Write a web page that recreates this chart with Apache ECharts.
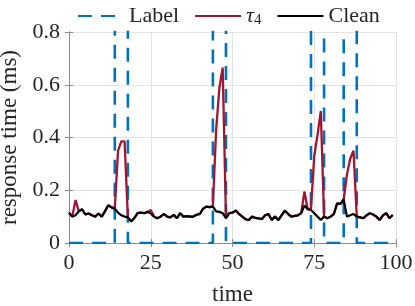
<!DOCTYPE html>
<html><head><meta charset="utf-8">
<script src="https://cdn.jsdelivr.net/npm/echarts@6/dist/echarts.min.js"></script>
<style>html,body{margin:0;padding:0;background:#fff}#c{width:415px;height:306px}</style>
</head><body><div id="c"></div>
<script>
// time stamps
var times = [];
for (var i = 0; i < 100; i++) times.push(i);
// Clean series values
var cleanVals = [0.115,0.100,0.105,0.120,0.128,0.108,0.112,0.105,0.100,0.112,
0.100,0.120,0.143,0.135,0.130,0.115,0.105,0.100,0.097,0.082,
0.095,0.113,0.115,0.113,0.118,0.112,0.100,0.094,0.100,0.110,
0.100,0.097,0.107,0.094,0.113,0.100,0.102,0.100,0.100,0.107,
0.110,0.130,0.138,0.136,0.138,0.120,0.118,0.113,0.094,0.113,
0.115,0.123,0.110,0.100,0.090,0.087,0.100,0.095,0.093,0.091,
0.105,0.110,0.087,0.100,0.087,0.105,0.123,0.110,0.100,0.103,
0.105,0.113,0.142,0.128,0.125,0.113,0.100,0.087,0.100,0.094,
0.100,0.110,0.150,0.148,0.165,0.100,0.105,0.110,0.100,0.097,
0.094,0.105,0.113,0.108,0.100,0.087,0.105,0.113,0.094,0.106];
// tau4 series values
var tau4Vals = [0.115,0.100,0.163,0.120,0.128,0.108,0.112,0.105,0.100,0.112,
0.100,0.120,0.143,0.135,0.130,0.350,0.385,0.385,0.097,0.082,
0.095,0.113,0.115,0.113,0.118,0.125,0.100,0.094,0.100,0.110,
0.100,0.097,0.107,0.094,0.113,0.100,0.102,0.100,0.100,0.107,
0.110,0.130,0.138,0.136,0.140,0.430,0.590,0.665,0.094,0.113,
0.115,0.123,0.110,0.100,0.090,0.087,0.100,0.095,0.093,0.091,
0.105,0.110,0.087,0.100,0.087,0.105,0.123,0.110,0.100,0.103,
0.105,0.113,0.195,0.128,0.130,0.330,0.410,0.500,0.100,0.094,
0.100,0.110,0.150,0.148,0.165,0.260,0.320,0.350,0.100,0.097,
0.094,0.105,0.113,0.108,0.100,0.087,0.105,0.113,0.094,0.106];
// Label step signal: breakpoints (time) and values
var labelTimes = [0,14,14,18,18,44,44,48,48,74,74,78,78,84,84,88,88,100];
var labelVals  = [0,0,1,1,0,0,1,1,0,0,1,1,0,0,1,1,0,0];
var xTicks = [0,25,50,75,100];
var yTicks = [0,0.2,0.4,0.6,0.8];

function zip(a,b){return a.map(function(v,i){return [v,b[i]];});}

var F = 'Liberation Serif';
var axisGray = '#8c8c8c';
var chart = echarts.init(document.getElementById('c'));
chart.setOption({
  animation:false,
  textStyle:{fontFamily:F},
  legend:{
    left:72, top:0, itemWidth:46, itemHeight:14, itemGap:15,
    itemStyle:{opacity:0},
    textStyle:{fontFamily:F,fontSize:22,color:'#262626',
      rich:{t:{fontFamily:F,fontSize:22,fontStyle:'italic',color:'#262626'},
            s:{fontFamily:F,fontSize:15,color:'#262626',verticalAlign:'bottom',padding:[8,0,0,0]}}},
    formatter:function(n){return n==='τ4'?'{t|τ}{s|4}':n;},
    data:['Label','τ4','Clean']
  },
  grid:{left:69,right:19,top:32,bottom:63,outerBoundsMode:'none',containLabel:false},
  xAxis:[{
    type:'value',min:0,max:100,interval:25,
    name:'time',nameLocation:'middle',nameGap:40,
    nameTextStyle:{fontFamily:F,fontSize:23,color:'#262626'},
    axisLine:{show:true,lineStyle:{color:axisGray,width:1}},
    axisTick:{show:true,inside:true,length:4,lineStyle:{color:axisGray}},
    axisLabel:{fontFamily:F,fontSize:22,color:'#262626',margin:9,
      formatter:function(v){return xTicks.indexOf(v)>=0?String(v):'';}},
    splitLine:{show:true,lineStyle:{color:'#e3e3e3',width:1}}
  },{
    type:'value',min:0,max:100,interval:25,position:'top',
    axisLine:{show:true,lineStyle:{color:axisGray,width:1}},
    axisTick:{show:true,inside:true,length:4,lineStyle:{color:axisGray}},
    axisLabel:{show:false},splitLine:{show:false}
  }],
  yAxis:[{
    type:'value',min:0,max:0.8,interval:0.2,
    name:'response time (ms)',nameLocation:'middle',nameGap:38,
    nameTextStyle:{fontFamily:F,fontSize:23,color:'#262626'},
    axisLine:{show:true,lineStyle:{color:axisGray,width:1}},
    axisTick:{show:true,inside:true,length:4,lineStyle:{color:axisGray}},
    axisLabel:{fontFamily:F,fontSize:22,color:'#262626',margin:9,
      formatter:function(v){var r=Math.round(v*10)/10;return r===0?'0':r.toFixed(1);}},
    splitLine:{show:true,lineStyle:{color:'#e3e3e3',width:1}}
  },{
    type:'value',min:0,max:0.8,interval:0.2,position:'right',
    axisLine:{show:true,lineStyle:{color:axisGray,width:1}},
    axisTick:{show:true,inside:true,length:4,lineStyle:{color:axisGray}},
    axisLabel:{show:false},splitLine:{show:false}
  }],
  series:[{
    name:'Label',type:'line',xAxisIndex:0,yAxisIndex:0,
    data:zip(labelTimes,labelVals),showSymbol:false,symbol:'none',clip:true,
    lineStyle:{color:'#0072BD',width:2.6,type:[14,9]},itemStyle:{color:'#0072BD'}
  },{
    name:'τ4',type:'line',data:zip(times,tau4Vals),showSymbol:false,symbol:'none',
    lineStyle:{color:'#A2142F',width:2.3},itemStyle:{color:'#A2142F'}
  },{
    name:'Clean',type:'line',data:zip(times,cleanVals),showSymbol:false,symbol:'none',
    lineStyle:{color:'#000000',width:2.2},itemStyle:{color:'#000000'}
  }]
});
</script></body></html>
